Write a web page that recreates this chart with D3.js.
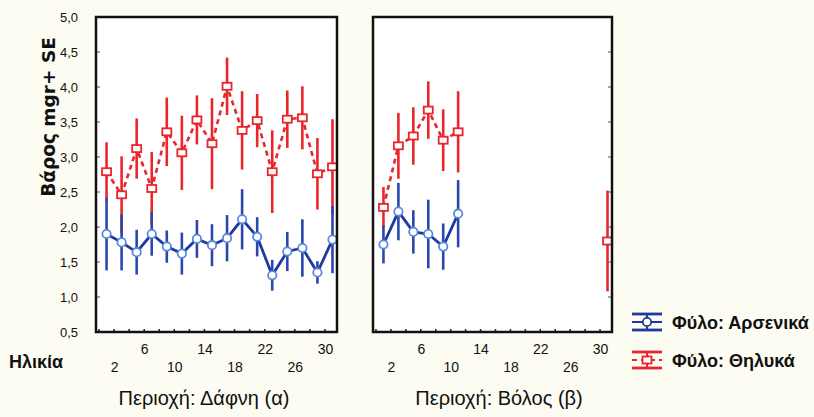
<!DOCTYPE html>
<html>
<head>
<meta charset="utf-8">
<script src="https://cdn.jsdelivr.net/npm/d3@7"></script>
<style>
  html, body { margin: 0; padding: 0; background: #fcfcf2; }
  svg { display: block; }
  text { font-family: "Liberation Sans Narrow", "Arial Narrow", "Liberation Sans", Arial, sans-serif; }
</style>
</head>
<body>
<div id="chart"></div>
<script>
// ---------------- data ----------------
const ages = [1, 3, 5, 7, 9, 11, 13, 15, 17, 19, 21, 23, 25, 27, 29, 31];
const xTickLabels = [2, 6, 10, 14, 18, 22, 26, 30];
const yTickLabels = [0.5, 1.0, 1.5, 2.0, 2.5, 3.0, 3.5, 4.0, 4.5, 5.0];

const regions = ["Περιοχή: Δάφνη (α)", "Περιοχή: Βόλος (β)"];
const sexes = ["Φύλο: Αρσενικά", "Φύλο: Θηλυκά"];

// Δάφνη (α)
const dafniMale     = [1.90, 1.78, 1.64, 1.90, 1.72, 1.62, 1.83, 1.74, 1.84, 2.11, 1.86, 1.31, 1.65, 1.70, 1.35, 1.82];
const dafniMaleSE   = [0.52, 0.40, 0.32, 0.31, 0.23, 0.30, 0.27, 0.30, 0.33, 0.43, 0.28, 0.22, 0.28, 0.41, 0.16, 0.48];
const dafniFemale   = [2.79, 2.46, 3.12, 2.55, 3.36, 3.06, 3.53, 3.19, 4.01, 3.38, 3.52, 2.79, 3.54, 3.56, 2.76, 2.86];
const dafniFemaleSE = [0.42, 0.55, 0.43, 0.52, 0.49, 0.53, 0.35, 0.65, 0.41, 0.56, 0.38, 0.59, 0.41, 0.45, 0.51, 0.68];

// Βόλος (β)
const volosMale     = [1.75, 2.22, 1.93, 1.90, 1.72, 2.19, null, null, null, null, null, null, null, null, null, null];
const volosMaleSE   = [0.27, 0.41, 0.31, 0.49, 0.33, 0.48, null, null, null, null, null, null, null, null, null, null];
const volosFemale   = [2.28, 3.16, 3.30, 3.67, 3.24, 3.36, null, null, null, null, null, null, null, null, null, 1.80];
const volosFemaleSE = [0.29, 0.47, 0.41, 0.41, 0.44, 0.58, null, null, null, null, null, null, null, null, null, 0.72];

// ---------------- drawing ----------------
const W = 814, H = 417;
const BLUE_LINE = "#1f3a9e", BLUE_BAR = "#2b47ad", BLUE_MARK = "#5a88dc";
const RED = "#e8262b";

const svg = d3.select("#chart").append("svg")
  .attr("width", W).attr("height", H)
  .attr("viewBox", `0 0 ${W} ${H}`);

svg.append("rect").attr("width", W).attr("height", H).attr("fill", "#fcfcf2");

const yTop = 17, yBot = 332;
const y = d3.scaleLinear().domain([0.5, 5.0]).range([yBot, yTop]);

const panels = [
  { title: regions[0], x0: 96, x1: 337, titleX: 204, male: dafniMale, maleSE: dafniMaleSE, female: dafniFemale, femaleSE: dafniFemaleSE, side: "left" },
  { title: regions[1], x0: 373, x1: 612, titleX: 499, male: volosMale, maleSE: volosMaleSE, female: volosFemale, femaleSE: volosFemaleSE, side: "right" }
];

// y axis labels
const yAxis = d3.axisLeft(y)
  .tickValues(yTickLabels)
  .tickFormat(d => d.toFixed(1).replace(".", ","))
  .tickSize(0).tickPadding(3);
const gy = svg.append("g").attr("transform", "translate(81,0)").call(yAxis);
gy.select(".domain").remove();
gy.selectAll("text").attr("font-size", 13).attr("fill", "#111").style("font-family", null);

// y axis title
svg.append("text")
  .attr("transform", "translate(55,117) rotate(-90)")
  .attr("text-anchor", "middle")
  .attr("font-size", 18.5).attr("font-weight", "bold").attr("fill", "#111")
  .style("font-family", "'DejaVu Sans', 'Liberation Sans', Arial, sans-serif")
  .text("Βάρος mgr+ SE");

// x axis title
svg.append("text")
  .attr("x", 9).attr("y", 368)
  .attr("font-size", 18).attr("font-weight", "bold").attr("fill", "#111")
  .style("font-family", "'Liberation Sans', Arial, sans-serif")
  .text("Ηλικία");

panels.forEach(p => {
  const x = d3.scaleLinear().domain([-0.4, 31.6]).range([p.x0, p.x1]);
  const g = svg.append("g");

  // panel background
  g.append("rect").attr("x", p.x0).attr("y", yTop)
    .attr("width", p.x1 - p.x0).attr("height", yBot - yTop)
    .attr("fill", "#ffffff");

  // inner ticks (bottom)
  g.selectAll(".bt").data(d3.range(0, 32, 2)).join("line")
    .attr("x1", d => x(d)).attr("x2", d => x(d))
    .attr("y1", yBot).attr("y2", yBot - 3)
    .attr("stroke", "#222").attr("stroke-width", 1.5);
  // inner ticks (side)
  const sx = p.side === "left" ? p.x0 : p.x1;
  const dir = p.side === "left" ? 1 : -1;
  g.selectAll(".st").data(yTickLabels).join("line")
    .attr("x1", sx).attr("x2", sx + dir * 4)
    .attr("y1", d => y(d)).attr("y2", d => y(d))
    .attr("stroke", "#555").attr("stroke-width", 1);

  const maleData = ages.map((a, i) => ({ a, v: p.male[i], e: p.maleSE[i] }));
  const femData = ages.map((a, i) => ({ a, v: p.female[i], e: p.femaleSE[i] }));

  const line = d3.line().defined(d => d.v != null).x(d => x(d.a)).y(d => y(d.v));

  // female (red)
  g.selectAll(".fbar").data(femData.filter(d => d.v != null)).join("line")
    .attr("x1", d => x(d.a)).attr("x2", d => x(d.a))
    .attr("y1", d => y(d.v - d.e)).attr("y2", d => y(d.v + d.e))
    .attr("stroke", RED).attr("stroke-width", 2.6);
  g.append("path").datum(femData).attr("d", line)
    .attr("fill", "none").attr("stroke", RED).attr("stroke-width", 2.6)
    .attr("stroke-dasharray", "5,4");

  // male (blue)
  g.selectAll(".mbar").data(maleData.filter(d => d.v != null)).join("line")
    .attr("x1", d => x(d.a)).attr("x2", d => x(d.a))
    .attr("y1", d => y(d.v - d.e)).attr("y2", d => y(d.v + d.e))
    .attr("stroke", BLUE_BAR).attr("stroke-width", 2.6);
  g.append("path").datum(maleData).attr("d", line)
    .attr("fill", "none").attr("stroke", BLUE_LINE).attr("stroke-width", 2.8);

  // markers
  g.selectAll(".fm").data(femData.filter(d => d.v != null)).join("rect")
    .attr("x", d => x(d.a) - 4.5).attr("y", d => y(d.v) - 3.5)
    .attr("width", 9).attr("height", 7)
    .attr("fill", "#fff").attr("stroke", RED).attr("stroke-width", 1.8);
  g.selectAll(".mm").data(maleData.filter(d => d.v != null)).join("circle")
    .attr("cx", d => x(d.a)).attr("cy", d => y(d.v)).attr("r", 4.2)
    .attr("fill", "#fff").attr("stroke", BLUE_MARK).attr("stroke-width", 1.8);

  // frame
  g.append("rect").attr("x", p.x0).attr("y", yTop)
    .attr("width", p.x1 - p.x0).attr("height", yBot - yTop)
    .attr("fill", "none").attr("stroke", "#111").attr("stroke-width", 2.5);

  // x tick labels (staggered)
  const xAxis = d3.axisBottom(x).tickValues(xTickLabels).tickSize(0);
  const gx = svg.append("g").attr("transform", `translate(0,${yBot})`).call(xAxis);
  gx.select(".domain").remove();
  gx.selectAll("text")
    .attr("font-size", 14).attr("fill", "#111").style("font-family", null)
    .attr("dy", 0)
    .attr("y", d => (d % 8 === 6) ? 22 : 40);

  // panel title
  svg.append("text")
    .attr("x", p.titleX).attr("y", 405)
    .attr("text-anchor", "middle")
    .attr("font-size", 20).attr("fill", "#111")
    .text(p.title);
});

// legend
const leg = svg.append("g");
const legendItems = [
  { label: sexes[0], color: BLUE_LINE, cy: 322, type: "circle" },
  { label: sexes[1], color: RED, cy: 360, type: "square" }
];
legendItems.forEach(it => {
  const lx0 = 632, lx1 = 662, cx = 647;
  leg.append("line").attr("x1", lx0).attr("x2", lx1).attr("y1", it.cy - 8).attr("y2", it.cy - 8)
    .attr("stroke", it.color).attr("stroke-width", 2.8);
  leg.append("line").attr("x1", lx0).attr("x2", lx1).attr("y1", it.cy + 8).attr("y2", it.cy + 8)
    .attr("stroke", it.color).attr("stroke-width", 2.8);
  leg.append("line").attr("x1", cx).attr("x2", cx).attr("y1", it.cy - 8).attr("y2", it.cy + 8)
    .attr("stroke", it.color).attr("stroke-width", 2.2);
  leg.append("line").attr("x1", lx0).attr("x2", lx1).attr("y1", it.cy).attr("y2", it.cy)
    .attr("stroke", it.color).attr("stroke-width", 2)
    .attr("stroke-dasharray", it.type === "square" ? "5,4" : null);
  if (it.type === "circle") {
    leg.append("circle").attr("cx", cx).attr("cy", it.cy).attr("r", 4.2)
      .attr("fill", "#fff").attr("stroke", it.color).attr("stroke-width", 1.8);
  } else {
    leg.append("rect").attr("x", cx - 4.5).attr("y", it.cy - 3.5).attr("width", 9).attr("height", 7)
      .attr("fill", "#fff").attr("stroke", it.color).attr("stroke-width", 1.8);
  }
  leg.append("text").attr("x", 672).attr("y", it.cy + 7)
    .attr("font-size", 18).attr("font-weight", "bold").attr("fill", "#111")
    .style("font-family", "'Liberation Sans', Arial, sans-serif")
    .text(it.label);
});
</script>
</body>
</html>
